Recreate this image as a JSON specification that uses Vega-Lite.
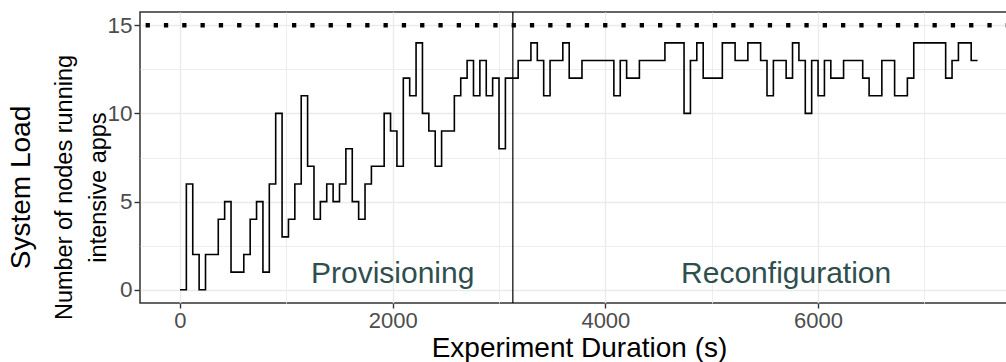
{
  "$schema": "https://vega.github.io/schema/vega-lite/v6.json",
  "width": 870,
  "height": 291,
  "autosize": {"type": "none"},
  "padding": {"left": 140, "top": 12, "right": 0, "bottom": 59},
  "config": {
    "font": "Liberation Sans",
    "view": {"stroke": "#333333", "strokeWidth": 1.5}
  },
  "title": {
    "text": "System Load",
    "orient": "left",
    "anchor": "middle",
    "fontSize": 28,
    "fontWeight": "normal",
    "color": "#000000",
    "offset": 16,
    "dx": -30
  },
  "datasets": {
    "load": [
      {"t": 0, "n": 0}, {"t": 60, "n": 6}, {"t": 120, "n": 2}, {"t": 180, "n": 0},
      {"t": 240, "n": 2}, {"t": 300, "n": 2}, {"t": 360, "n": 4}, {"t": 420, "n": 5},
      {"t": 480, "n": 1}, {"t": 540, "n": 1}, {"t": 600, "n": 2}, {"t": 660, "n": 4},
      {"t": 720, "n": 5}, {"t": 780, "n": 1}, {"t": 840, "n": 6}, {"t": 900, "n": 10},
      {"t": 960, "n": 3}, {"t": 1020, "n": 4}, {"t": 1080, "n": 6}, {"t": 1140, "n": 11},
      {"t": 1200, "n": 7}, {"t": 1260, "n": 4}, {"t": 1320, "n": 5}, {"t": 1380, "n": 6},
      {"t": 1440, "n": 5}, {"t": 1500, "n": 6}, {"t": 1560, "n": 8}, {"t": 1620, "n": 5},
      {"t": 1680, "n": 4}, {"t": 1740, "n": 6}, {"t": 1800, "n": 7}, {"t": 1860, "n": 7},
      {"t": 1920, "n": 10}, {"t": 1980, "n": 9}, {"t": 2040, "n": 7}, {"t": 2100, "n": 12},
      {"t": 2160, "n": 11}, {"t": 2220, "n": 14}, {"t": 2280, "n": 10}, {"t": 2340, "n": 9},
      {"t": 2400, "n": 7}, {"t": 2460, "n": 9}, {"t": 2520, "n": 9}, {"t": 2580, "n": 11},
      {"t": 2640, "n": 12}, {"t": 2700, "n": 13}, {"t": 2760, "n": 11}, {"t": 2820, "n": 13},
      {"t": 2880, "n": 11}, {"t": 2940, "n": 12}, {"t": 3000, "n": 8}, {"t": 3060, "n": 12},
      {"t": 3120, "n": 12}, {"t": 3180, "n": 13}, {"t": 3240, "n": 13}, {"t": 3300, "n": 14},
      {"t": 3360, "n": 13}, {"t": 3420, "n": 11}, {"t": 3480, "n": 13}, {"t": 3540, "n": 13},
      {"t": 3600, "n": 14}, {"t": 3660, "n": 12}, {"t": 3720, "n": 12}, {"t": 3780, "n": 13},
      {"t": 3840, "n": 13}, {"t": 3900, "n": 13}, {"t": 3960, "n": 13}, {"t": 4020, "n": 13},
      {"t": 4080, "n": 11}, {"t": 4140, "n": 13}, {"t": 4200, "n": 12}, {"t": 4260, "n": 12},
      {"t": 4320, "n": 13}, {"t": 4380, "n": 13}, {"t": 4440, "n": 13}, {"t": 4500, "n": 13},
      {"t": 4560, "n": 14}, {"t": 4620, "n": 14}, {"t": 4680, "n": 14}, {"t": 4740, "n": 10},
      {"t": 4800, "n": 13}, {"t": 4860, "n": 14}, {"t": 4920, "n": 12}, {"t": 4980, "n": 12},
      {"t": 5040, "n": 12}, {"t": 5100, "n": 14}, {"t": 5160, "n": 14}, {"t": 5220, "n": 13},
      {"t": 5280, "n": 13}, {"t": 5340, "n": 14}, {"t": 5400, "n": 14}, {"t": 5460, "n": 13},
      {"t": 5520, "n": 11}, {"t": 5580, "n": 13}, {"t": 5640, "n": 13}, {"t": 5700, "n": 12},
      {"t": 5760, "n": 14}, {"t": 5820, "n": 13}, {"t": 5880, "n": 10}, {"t": 5940, "n": 13},
      {"t": 6000, "n": 11}, {"t": 6060, "n": 13}, {"t": 6120, "n": 12}, {"t": 6180, "n": 12},
      {"t": 6240, "n": 13}, {"t": 6300, "n": 13}, {"t": 6360, "n": 13}, {"t": 6420, "n": 12},
      {"t": 6480, "n": 11}, {"t": 6540, "n": 11}, {"t": 6600, "n": 13}, {"t": 6660, "n": 13},
      {"t": 6720, "n": 11}, {"t": 6780, "n": 11}, {"t": 6840, "n": 12}, {"t": 6900, "n": 14},
      {"t": 6960, "n": 14}, {"t": 7020, "n": 14}, {"t": 7080, "n": 14}, {"t": 7140, "n": 14},
      {"t": 7200, "n": 12}, {"t": 7260, "n": 13}, {"t": 7320, "n": 14}, {"t": 7380, "n": 14},
      {"t": 7440, "n": 13}, {"t": 7500, "n": 13}
    ],
    "capacity": [{"n": 15}],
    "phase_split": [{"t": 3130}],
    "phases": [
      {"t": 2000, "n": 1, "label": "Provisioning"},
      {"t": 5700, "n": 1, "label": "Reconfiguration"}
    ]
  },
  "layer": [
    {
      "data": {"name": "load"},
      "mark": {"type": "line", "interpolate": "step-after", "color": "#000000", "strokeWidth": 1.6},
      "encoding": {
        "x": {
          "field": "t",
          "type": "quantitative",
          "scale": {"domain": [-376, 7805], "nice": false, "zero": false},
          "axis": {
            "values": [0, 1000, 2000, 3000, 4000, 5000, 6000, 7000],
            "format": "d",
            "labelExpr": "datum.value % 2000 === 0 ? datum.label : ''",
            "labelOverlap": false,
            "labelFontSize": 22,
            "labelColor": "#4D4D4D",
            "labelPadding": 2.5,
            "tickColor": "#333333",
            "tickSize": 5,
            "tickWidth": 1.4,
            "tickOpacity": {"condition": {"test": "datum.value % 2000 === 0", "value": 1}, "value": 0},
            "domain": false,
            "grid": true,
            "gridColor": "#EBEBEB",
            "gridWidth": {"condition": {"test": "datum.value % 2000 === 0", "value": 1.4}, "value": 0.9},
            "title": "Experiment Duration (s)",
            "titleFontSize": 28,
            "titleFontWeight": "normal",
            "titleColor": "#000000",
            "titleX": 439,
            "titleY": 53,
            "titleAlign": "center",
            "titleBaseline": "alphabetic"
          }
        },
        "y": {
          "field": "n",
          "type": "quantitative",
          "scale": {"domain": [-0.75, 15.75], "nice": false, "zero": false},
          "axis": {
            "values": [0, 2.5, 5, 7.5, 10, 12.5, 15],
            "labelExpr": "datum.value % 5 === 0 ? datum.label : ''",
            "labelOverlap": false,
            "labelFontSize": 22.5,
            "labelColor": "#4D4D4D",
            "labelPadding": 2,
            "tickColor": "#333333",
            "tickSize": 6,
            "tickWidth": 1.4,
            "tickOpacity": {"condition": {"test": "datum.value % 5 === 0", "value": 1}, "value": 0},
            "domain": false,
            "grid": true,
            "gridColor": "#EBEBEB",
            "gridWidth": {"condition": {"test": "datum.value % 5 === 0", "value": 1.4}, "value": 0.9},
            "title": ["Number of nodes running", "intensive apps"],
            "titleFontSize": 23.5,
            "titleFontWeight": "normal",
            "titleColor": "#000000",
            "titleLineHeight": 34,
            "titleAngle": -90,
            "titleX": -69,
            "titleY": 175,
            "titleAlign": "center",
            "titleBaseline": "alphabetic"
          }
        }
      }
    },
    {
      "data": {"name": "capacity"},
      "mark": {"type": "rule", "color": "#000000", "strokeWidth": 4.3, "strokeDash": [4.3, 14], "strokeCap": "butt"},
      "encoding": {"y": {"field": "n", "type": "quantitative"}}
    },
    {
      "data": {"name": "phase_split"},
      "mark": {"type": "rule", "color": "#000000", "strokeWidth": 1.2},
      "encoding": {"x": {"field": "t", "type": "quantitative"}}
    },
    {
      "data": {"name": "phases"},
      "mark": {"type": "text", "fontSize": 30, "color": "#2F4F4F", "align": "center", "baseline": "middle", "dy": 2},
      "encoding": {
        "x": {"field": "t", "type": "quantitative"},
        "y": {"field": "n", "type": "quantitative"},
        "text": {"field": "label"}
      }
    }
  ]
}
